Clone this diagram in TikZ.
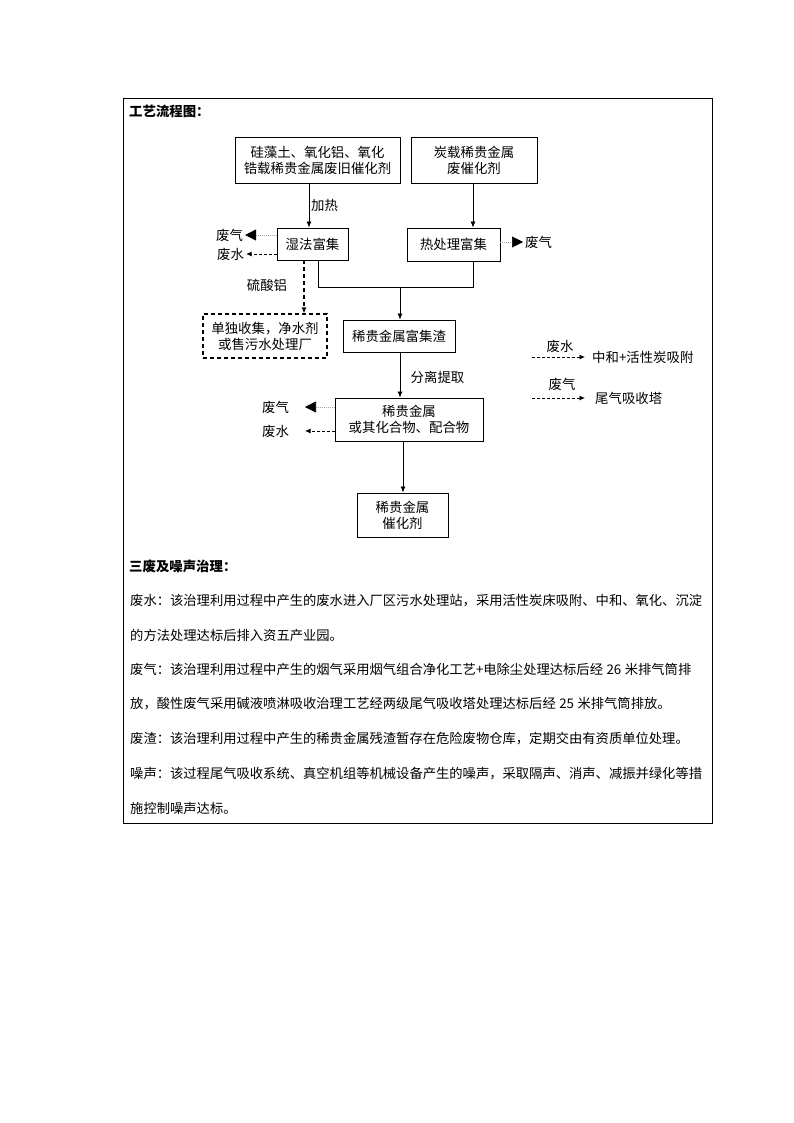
\documentclass[tikz,border=0pt]{standalone}
\usepackage{fontspec}
\setmainfont{Noto Sans CJK SC}
\usetikzlibrary{arrows.meta,calc}
\XeTeXlinebreaklocale "zh"
\XeTeXlinebreakskip=0pt plus 1pt minus 0.05pt
\newcommand{\bodyfont}{\fontsize{13.3pt}{16pt}\selectfont}
\newcommand{\chartfont}{\fontsize{13.4pt}{16pt}\selectfont}
\newcommand{\fsp}{\hspace{3.5pt}}
\tikzset{
  box/.style={draw, line width=0.9pt, align=center, font=\chartfont, inner sep=0pt},
  lbl/.style={font=\chartfont, inner sep=2pt},
  bodyline/.style={font=\bodyfont, inner sep=0pt, anchor=west},
  head/.style={font=\chartfont\bfseries, inner sep=0pt, anchor=west},
  arr/.style={line width=0.8pt, -{Latex[length=6pt,width=5pt]}},
  plain/.style={line width=0.8pt},
  wet/.style={line width=0.8pt, dash pattern=on 3pt off 2pt, -{Latex[length=5.5pt,width=5pt]}},
  wetv/.style={line width=1.1pt, dash pattern=on 4pt off 3pt, -{Latex[length=6pt,width=5pt]}},
  gas/.style={gray!70, line width=0.6pt, dash pattern=on 1pt off 1pt, -{Triangle[length=11pt,width=11pt,color=black]}}
}
\begin{document}
\begin{tikzpicture}[x=1pt,y=-1pt]
\path[use as bounding box, fill=white] (0,0) rectangle (793,1123);
\draw[line width=0.9pt] (123,98) rectangle (712,823);

\node[head] (title) at (129,111) {工艺流程图：};

% boxes
\node[box, minimum width=165pt, minimum height=46pt] (b1) at (317.5,160) {硅藻土、氧化铝、氧化\\锆载稀贵金属废旧催化剂};
\node[box, minimum width=126pt, minimum height=46pt] (b2) at (474,160) {炭载稀贵金属\\废催化剂};
\node[box, minimum width=71pt, minimum height=32pt] (b3) at (312.5,244) {湿法富集};
\node[box, minimum width=93pt, minimum height=33pt] (b4) at (453.5,244.5) {热处理富集};
\node[box, minimum width=112pt, minimum height=32pt] (b5) at (399,336) {稀贵金属富集渣};
\node[box, minimum width=148pt, minimum height=43pt] (b6) at (409,419.5) {稀贵金属\\或其化合物、配合物};
\node[box, minimum width=91pt, minimum height=44pt] (b7) at (402.5,515) {稀贵金属\\催化剂};
\node[box, dash pattern=on 4pt off 3pt, line width=1.1pt, minimum width=124pt, minimum height=44pt] (bd) at (265,336) {单独收集，净水剂\\或售污水处理厂};

% helper coordinates
\coordinate (xa) at (309,0);
\coordinate (xb) at (473,0);
\coordinate (xd) at (403,0);
\coordinate (xe) at (304,0);
\coordinate (m1) at (318,287);
\coordinate (m2) at (473,287);
\coordinate (mm) at (400,287);

% main flow
\draw[arr] (b1.south -| xa) -- (b3.north -| xa);
\node[lbl, anchor=west] (jr) at (309,205) {加热};
\draw[arr] (b2.south -| xb) -- (b4.north -| xb);
\draw[plain] (b3.south -| m1) -- (m1) -- (m2) -- (b4.south -| m2);
\draw[arr] (mm) -- (b5.north -| mm);
\draw[arr] (b5.south -| mm) -- (b6.north -| mm);
\node[lbl] (fl) at (437.5,377) {分离提取};
\draw[arr] (b6.south -| xd) -- (b7.north -| xd);

% dashed branch
\draw[wetv] (b3.south -| xe) -- (bd.north -| xe);
\node[lbl] (ls) at (267,285) {硫酸铝};

% side outputs of b3
\node[lbl] (g1) at (229.5,235) {废气};
\draw[gas] ([yshift=9pt]b3.west) -- (g1.east);
\node[lbl] (w1) at (230.5,254) {废水};
\draw[wet] ([yshift=-10pt]b3.west) -- (w1.east);

% side output of b4
\node[lbl, anchor=west] (g2) at (523,242) {废气};
\draw[gas] ([yshift=2.5pt]b4.east) -- (g2.west);

% side outputs of b6
\node[lbl] (g3) at (275.5,407) {废气};
\coordinate (g3t) at (305,407);
\draw[gas] ([yshift=12.5pt]b6.west) -- (g3t);
\node[lbl] (w3) at (275.5,431) {废水};
\coordinate (w3t) at (305,431);
\draw[wet] ([yshift=-11.5pt]b6.west) -- (w3t);

% legend
\coordinate (l1s) at (532,357);
\coordinate (l1e) at (585,357);
\node[lbl, anchor=west] (l1t) at (590,357) {中和+活性炭吸附};
\node[lbl] (l1l) at (560,346) {废水};
\draw[wet] (l1s) -- (l1e);
\coordinate (l2s) at (532,398);
\coordinate (l2e) at (585,398);
\node[lbl, anchor=west] (l2t) at (593,398) {尾气吸收塔};
\node[lbl] (l2l) at (562,384) {废气};
\draw[wet] (l2s) -- (l2e);

% text section
\node[head] (h2) at (129,566) {三废及噪声治理：};
\node[bodyline] (t1) at (130,601) {\hbox to 575pt{废水：该治理利用过程中产生的废水进入厂区污水处理站，采用活性炭床吸附、中和、氧化、沉淀}};
\node[bodyline] (t2) at (130,635) {的方法处理达标后排入资五产业园。};
\node[bodyline] (t3) at (130,669) {\hbox to 575pt{废气：该治理利用过程中产生的烟气采用烟气组合净化工艺+电除尘处理达标后经\fsp{}26\fsp{}米排气筒排}};
\node[bodyline] (t4) at (130,704) {放，酸性废气采用碱液喷淋吸收治理工艺经两级尾气吸收塔处理达标后经\fsp{}25\fsp{}米排气筒排放。};
\node[bodyline] (t5) at (130,739) {废渣：该治理利用过程中产生的稀贵金属残渣暂存在危险废物仓库，定期交由有资质单位处理。};
\node[bodyline] (t6) at (130,774) {\hbox to 575pt{噪声：该过程尾气吸收系统、真空机组等机械设备产生的噪声，采取隔声、消声、减振并绿化等措}};
\node[bodyline] (t7) at (130,808) {施控制噪声达标。};
\end{tikzpicture}
\end{document}
